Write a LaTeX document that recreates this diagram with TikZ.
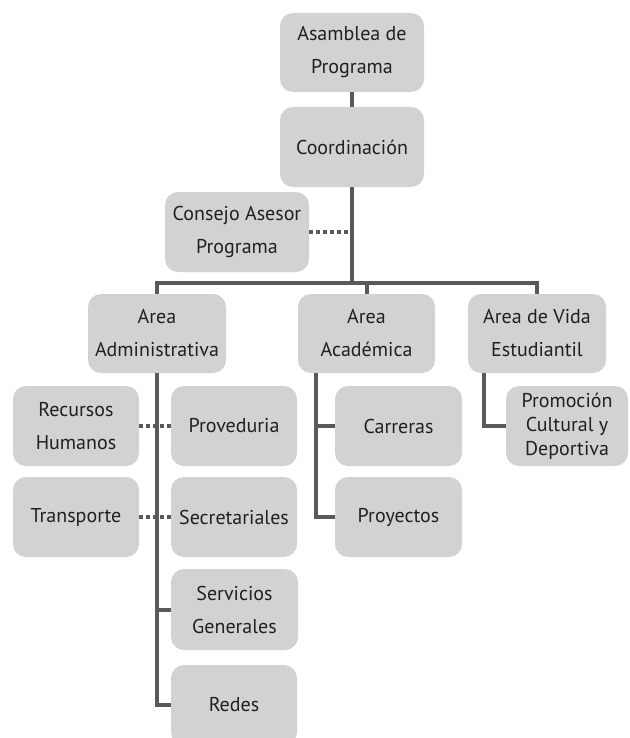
\documentclass[tikz,border=0pt]{standalone}
\usepackage{fontspec}
\setmainfont{PT Sans}
\begin{document}
\definecolor{boxfill}{HTML}{D1D2D4}
\definecolor{linegray}{HTML}{58595B}
\definecolor{inkgray}{HTML}{231F20}
\begin{tikzpicture}[x=1pt,y=-1pt,
  box/.style={rounded corners=13pt, fill=boxfill, text=inkgray, align=center,
    inner sep=0pt, font=\fontsize{20}{33}\selectfont},
  conn/.style={draw=linegray, line width=4pt},
  dotline/.style={draw=linegray, line width=4pt, dash pattern=on 4pt off 3pt}]
\useasboundingbox (0,0) rectangle (629,738);
\begin{scope}
\clip (0,0) rectangle (629,738);
% boxes
\node[box, minimum width=144pt, minimum height=79pt] (asam) at (352,52.5) {Asamblea de\\Programa};
\node[box, minimum width=144pt, minimum height=80pt] (coord) at (352,147) {Coordinación};
\node[box, minimum width=144pt, minimum height=80pt] (consejo) at (237,232) {Consejo Asesor\\Programa};
\node[box, minimum width=138pt, minimum height=79pt] (adm) at (157,333.5) {Area\\Administrativa};
\node[box, minimum width=137pt, minimum height=79pt] (acad) at (366.5,333.5) {Area\\Académica};
\node[box, minimum width=138pt, minimum height=79pt] (vida) at (537,333.5) {Area de Vida\\Estudiantil};
\node[box, minimum width=126pt, minimum height=80pt] (rec) at (76,426) {Recursos\\Humanos};
\node[box, minimum width=126pt, minimum height=80pt] (prov) at (234,426) {Proveduria};
\node[box, minimum width=126pt, minimum height=80pt] (trans) at (76,517) {Transporte};
\node[box, minimum width=126pt, minimum height=80pt] (secr) at (234,517) {Secretariales};
\node[box, minimum width=127pt, minimum height=81pt] (serv) at (234.5,609.5) {Servicios\\Generales};
\node[box, minimum width=126pt, minimum height=80pt] (redes) at (234,705) {Redes};
\node[box, minimum width=127pt, minimum height=80pt] (carr) at (398.5,426) {Carreras};
\node[box, minimum width=127pt, minimum height=80pt] (proy) at (398.5,517) {Proyectos};
\node[box, minimum width=122pt, minimum height=80pt, font=\fontsize{20}{24}\selectfont] (prom) at (567,426) {Promoción\\Cultural y\\Deportiva};
\end{scope}
% main trunk and bus
\coordinate (bus) at (352,283);
\draw[conn] (asam.south) -- (coord.north);
\draw[conn] (coord.south) -- (bus);
\draw[conn] (adm.north) -- (adm.north |- bus) -- (vida.north |- bus) -- (vida.north);
\draw[conn] (acad.north) -- (acad.north |- bus);
\draw[dotline] (consejo.east) -- (consejo.east -| bus);
% administrative branch
\draw[conn] (adm.south) |- (redes.west);
\draw[conn] (adm.south |- serv.west) -- (serv.west);
\draw[dotline] (rec.east) -- (prov.west);
\draw[dotline] (trans.east) -- (secr.west);
% academic branch
\coordinate (acadtrunk) at ([xshift=18pt]acad.south west);
\draw[conn] (acadtrunk) |- (proy.west);
\draw[conn] (acadtrunk |- carr.west) -- (carr.west);
% student life branch
\coordinate (vidatrunk) at ([xshift=16pt]vida.south west);
\draw[conn] (vidatrunk) |- (prom.west);
\end{tikzpicture}
\end{document}
